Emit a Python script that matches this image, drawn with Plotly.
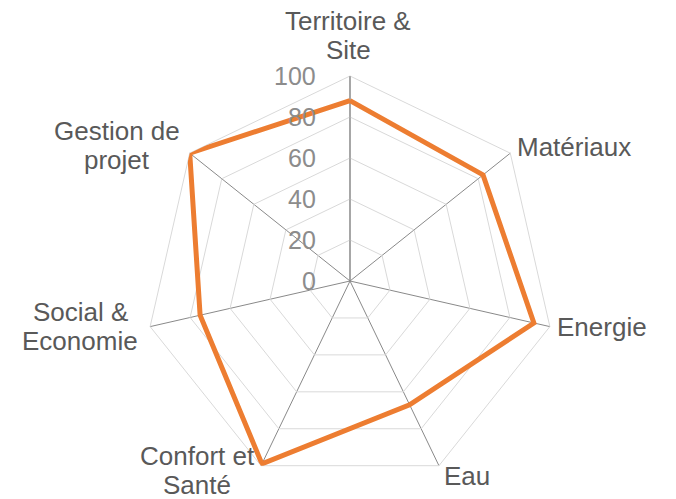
import math
import plotly.graph_objects as go

categories = ["Territoire &<br>Site", "Matériaux", "Energie", "Eau",
              "Confort et<br>Santé", "Social &<br>Economie", "Gestion de<br>projet"]
scores = [88, 83, 92, 67, 99, 75, 100]
radial_ticks = [0, 20, 40, 60, 80, 100]

# label placement around each spoke tip: (xanchor, yanchor, xshift, yshift)
label_anchor = [
    ("center", "bottom", -2, 9),
    ("left", "middle", 5, 6),
    ("left", "middle", 5, 0),
    ("left", "middle", 3, -10),
    ("center", "middle", -64, -5),
    ("center", "middle", -70, 0),
    ("center", "middle", -73, 8),
]
LINE_GAP = 29
CAT_FONT = dict(family="Liberation Sans, Arial, sans-serif", size=26, color="#595959")
TICK_FONT = dict(family="Liberation Sans, Arial, sans-serif", size=25, color="#8C8C8C")

fig = go.Figure()
fig.add_trace(go.Scatterpolar(
    r=scores + scores[:1],
    theta=categories + categories[:1],
    mode="lines",
    line=dict(color="#ED7D31", width=5),
    hoverinfo="skip",
))

annotations = []
n = len(categories)
for i, (cat, (xa, ya, xs, ys)) in enumerate(zip(categories, label_anchor)):
    ang = 2 * math.pi * i / n
    px = 0.5 + 0.5 * math.sin(ang)
    py = 0.5 + 0.5 * math.cos(ang)
    lines = cat.split("<br>")
    k = len(lines)
    for j, line in enumerate(lines):
        # vertical offset of this line inside its label block
        if ya == "bottom":
            off = (k - 1 - j) * LINE_GAP
        else:
            off = ((k - 1) / 2 - j) * LINE_GAP
        annotations.append(dict(
            x=px, y=py, xref="paper", yref="paper", text=line,
            showarrow=False, xanchor=xa, yanchor=ya,
            xshift=xs, yshift=ys + off,
            font=CAT_FONT, align="center",
        ))

for v in radial_ticks:
    annotations.append(dict(
        x=0.5, y=0.5 + 0.5 * v / 100, xref="paper", yref="paper",
        text=str(v), showarrow=False, xanchor="right", yanchor="middle",
        xshift=-32, font=TICK_FONT,
    ))

fig.update_layout(
    width=676, height=499,
    margin=dict(l=145, r=121, t=76, b=13),
    paper_bgcolor="white",
    showlegend=False,
    annotations=annotations,
    polar=dict(
        bgcolor="white",
        gridshape="linear",
        radialaxis=dict(
            range=[0, 100],
            tickvals=radial_ticks,
            angle=90,
            showline=True,
            linecolor="#898989",
            linewidth=1,
            gridcolor="#D9D9D9",
            gridwidth=1,
            ticks="",
            showticklabels=False,
            layer="below traces",
        ),
        angularaxis=dict(
            rotation=90,
            direction="clockwise",
            showline=True,
            linecolor="#D9D9D9",
            linewidth=1,
            gridcolor="#898989",
            gridwidth=1,
            ticks="",
            showticklabels=False,
            layer="below traces",
        ),
    ),
)

fig.write_html("out.html")
